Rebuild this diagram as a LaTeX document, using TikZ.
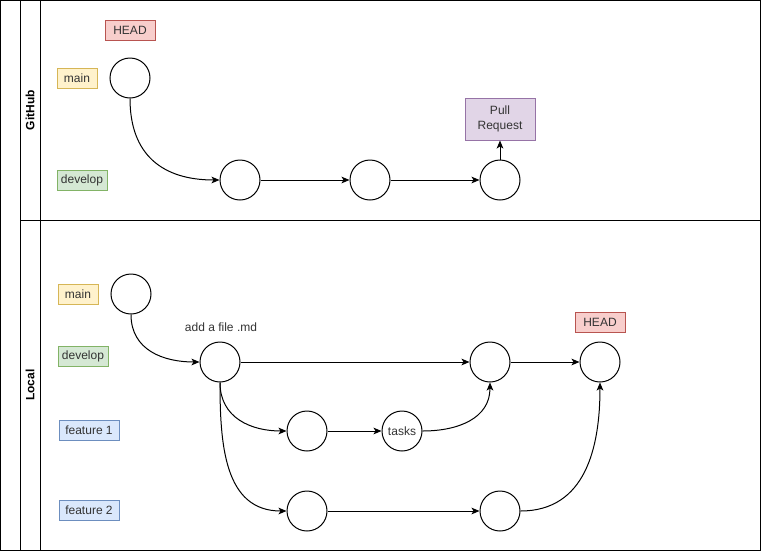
\documentclass[tikz,border=0pt]{standalone}
\usepackage{fontspec}
\setmainfont{Liberation Sans}
\usetikzlibrary{arrows.meta}
\definecolor{headfill}{HTML}{F8CECC}\definecolor{headdraw}{HTML}{B85450}
\definecolor{mainfill}{HTML}{FFF2CC}\definecolor{maindraw}{HTML}{D6B656}
\definecolor{devfill}{HTML}{D5E8D4}\definecolor{devdraw}{HTML}{82B366}
\definecolor{featfill}{HTML}{DAE8FC}\definecolor{featdraw}{HTML}{6C8EBF}
\definecolor{prfill}{HTML}{E1D5E7}\definecolor{prdraw}{HTML}{9673A6}
\definecolor{txt}{HTML}{333333}
\begin{document}
\begin{tikzpicture}[x=0.75pt,y=0.75pt,
  every node/.style={font=\fontsize{9pt}{11pt}\selectfont, text=txt},
  commit/.style={circle, draw=black, fill=white, line width=0.75pt, minimum size=30pt, inner sep=0pt},
  tag/.style={rectangle, line width=0.75pt, inner sep=0pt, minimum height=15pt},
  headtag/.style={tag, fill=headfill, draw=headdraw, minimum width=37.5pt},
  maintag/.style={tag, fill=mainfill, draw=maindraw, minimum width=30pt},
  devtag/.style={tag, fill=devfill, draw=devdraw, minimum width=37.5pt},
  feattag/.style={tag, fill=featfill, draw=featdraw, minimum width=45pt},
  link/.style={line width=0.75pt, -{Stealth[length=6pt,width=5pt,inset=1.5pt]}},
  lane/.style={font=\bfseries\fontsize{9pt}{11pt}\selectfont, text=black, rotate=90}
]
\useasboundingbox (0,0) rectangle (761,-551);
% frame and lanes
\draw[line width=0.75pt] (0.5,-0.5) rectangle (760.5,-550.5);
\draw[line width=0.75pt] (20.5,-0.5) -- (20.5,-550.5);
\draw[line width=0.75pt] (40.5,-0.5) -- (40.5,-550.5);
\draw[line width=0.75pt] (20.5,-220.5) -- (760.5,-220.5);
\node[lane] (laneGH) at (30,-110) {GitHub};
\node[lane] (laneLoc) at (30,-385) {Local};

% GitHub lane
\node[headtag] (ghHead) at (130,-30) {HEAD};
\node[maintag] (ghMain) at (77,-78) {main};
\node[devtag] (ghDev) at (82,-180) {develop};
\node[commit] (g1) at (130,-78) {};
\node[commit] (g2) at (240,-180) {};
\node[commit] (g3) at (370,-180) {};
\node[commit] (g4) at (500,-180) {};
\node[rectangle, fill=prfill, draw=prdraw, line width=0.75pt, minimum width=52.5pt, minimum height=31.5pt, align=center, inner sep=0pt] (pr) at (500,-119) {Pull\\Request};
\draw[link] (g1.south) to[out=270,in=180,looseness=1.2] (g2.west);
\draw[link] (g2.east) -- (g3.west);
\draw[link] (g3.east) -- (g4.west);
\draw[link] (g4.north) -- (pr.south);

% Local lane
\node[maintag] (lMain) at (78,-294) {main};
\node[devtag] (lDev) at (83,-356) {develop};
\node[feattag] (lF1) at (89,-430) {feature 1};
\node[feattag] (lF2) at (89,-510) {feature 2};
\node[headtag] (lHead) at (600,-322) {HEAD};
\node (addmd) at (221,-327) {add a file .md};
\node[commit] (l1) at (131,-294) {};
\node[commit] (d1) at (220,-362) {};
\node[commit] (d2) at (490,-362) {};
\node[commit] (d3) at (600,-362) {};
\node[commit] (f1a) at (307,-431) {};
\node[commit] (f1b) at (402,-431) {tasks};
\node[commit] (f2a) at (307,-511) {};
\node[commit] (f2b) at (500,-511) {};
\draw[link] (l1.south) to[out=270,in=180,looseness=1.1] (d1.west);
\draw[link] (d1.east) -- (d2.west);
\draw[link] (d2.east) -- (d3.west);
\draw[link] (d1.south) to[out=270,in=180,looseness=1.1] (f1a.west);
\draw[link] (d1.south) to[out=270,in=180,looseness=1.1] (f2a.west);
\draw[link] (f1a.east) -- (f1b.west);
\draw[link] (f1b.east) to[out=0,in=270,looseness=1.1] (d2.south);
\draw[link] (f2a.east) -- (f2b.west);
\draw[link] (f2b.east) to[out=0,in=270,looseness=1.1] (d3.south);
\end{tikzpicture}
\end{document}
